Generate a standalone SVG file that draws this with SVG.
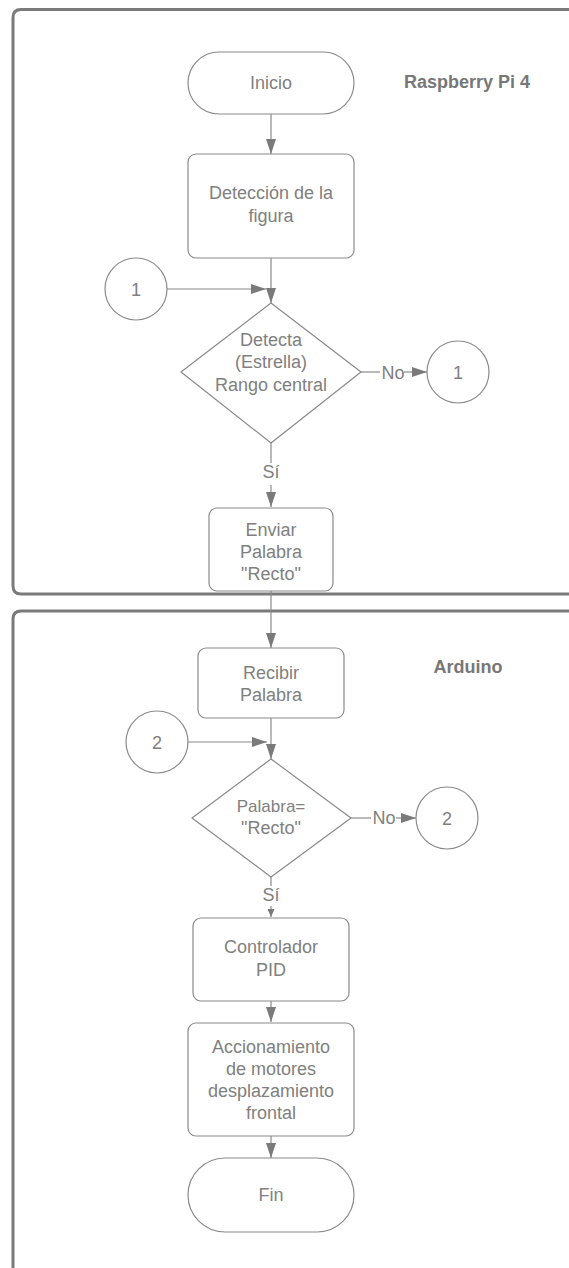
<svg xmlns="http://www.w3.org/2000/svg" width="569" height="1268" viewBox="0 0 569 1268">
  <style>
    .lane { fill: none; stroke: #7a7a7a; stroke-width: 3; }
    .shape { fill: #ffffff; stroke: #8a8a8a; stroke-width: 1.2; stroke-linejoin: round; }
    .edge { fill: none; stroke: #8a8a8a; stroke-width: 1.2; }
    .txt { font-family: "Liberation Sans", Arial, sans-serif; font-size: 18px; fill: #808080; text-anchor: middle; }
    .title { font-family: "Liberation Sans", Arial, sans-serif; font-size: 18px; font-weight: bold; fill: #777777; text-anchor: middle; }
  </style>
  <defs>
    <marker id="arrow" viewBox="0 0 15 10" refX="15" refY="5" markerWidth="15" markerHeight="10" markerUnits="userSpaceOnUse" orient="auto">
      <path d="M0,0 L15,5 L0,10 z" fill="#7a7a7a"/>
    </marker>
    <marker id="arrow-small" viewBox="0 0 8 7" refX="8" refY="3.5" markerWidth="8" markerHeight="7" markerUnits="userSpaceOnUse" orient="auto">
      <path d="M0,0 L8,3.5 L0,7 z" fill="#7a7a7a"/>
    </marker>
  </defs>
  <rect width="569" height="1268" fill="#ffffff"/>

  <!-- swimlanes -->
  <g id="lane-raspberry">
    <path class="lane" d="M580,9.5 H21 Q13,9.5 13,17.5 V586 Q13,594 21,594 H580"/>
    <text class="title" x="467" y="88">Raspberry Pi 4</text>
  </g>
  <g id="lane-arduino">
    <path class="lane" d="M580,611 H21 Q13,611 13,619 V1275"/>
    <text class="title" x="468" y="673">Arduino</text>
  </g>

  <!-- connectors -->
  <g id="connectors">
    <line class="edge" x1="271" y1="114" x2="271" y2="154" marker-end="url(#arrow)"/>
    <line class="edge" x1="271" y1="258" x2="271" y2="303" marker-end="url(#arrow)"/>
    <line class="edge" x1="167" y1="289" x2="266" y2="289" marker-end="url(#arrow)"/>
    <line class="edge" x1="361" y1="372" x2="380" y2="372"/>
    <line class="edge" x1="404" y1="372" x2="427" y2="372" marker-end="url(#arrow)"/>
    <text class="txt" x="393" y="379">No</text>
    <line class="edge" x1="271" y1="443" x2="271" y2="463"/>
    <text class="txt" x="271" y="478">Sí</text>
    <line class="edge" x1="271" y1="485" x2="271" y2="507" marker-end="url(#arrow)"/>
    <line class="edge" x1="271" y1="591" x2="271" y2="648" marker-end="url(#arrow)"/>
    <line class="edge" x1="271" y1="718" x2="271" y2="759" marker-end="url(#arrow)"/>
    <line class="edge" x1="188" y1="742" x2="267" y2="742" marker-end="url(#arrow)"/>
    <line class="edge" x1="351" y1="818" x2="371" y2="818"/>
    <line class="edge" x1="396" y1="818" x2="416" y2="818" marker-end="url(#arrow)"/>
    <text class="txt" x="384" y="824">No</text>
    <line class="edge" x1="271" y1="877" x2="271" y2="886"/>
    <text class="txt" x="271" y="901">Sí</text>
    <line class="edge" x1="271" y1="906" x2="271" y2="917" marker-end="url(#arrow-small)"/>
    <line class="edge" x1="271" y1="1001" x2="271" y2="1022" marker-end="url(#arrow)"/>
    <line class="edge" x1="271" y1="1136" x2="271" y2="1158" marker-end="url(#arrow)"/>
  </g>

  <!-- nodes -->
  <g id="inicio">
    <rect class="shape" x="188" y="52" width="166" height="62" rx="31"/>
    <text class="txt" x="271" y="89">Inicio</text>
  </g>
  <g id="deteccion">
    <rect class="shape" x="188" y="154" width="166" height="104" rx="8"/>
    <text class="txt" x="271" y="199">Detección de la</text>
    <text class="txt" x="271" y="222">figura</text>
  </g>
  <g id="conector-1-entrada">
    <circle class="shape" cx="136" cy="289" r="31"/>
    <text class="txt" x="136" y="296">1</text>
  </g>
  <g id="decision-estrella">
    <polygon class="shape" points="271,303 361,372 271,443 181,372"/>
    <text class="txt" x="271" y="346">Detecta</text>
    <text class="txt" x="271" y="368">(Estrella)</text>
    <text class="txt" x="271" y="391">Rango central</text>
  </g>
  <g id="conector-1-salida">
    <circle class="shape" cx="458" cy="372" r="31"/>
    <text class="txt" x="458" y="379">1</text>
  </g>
  <g id="enviar">
    <rect class="shape" x="209" y="508" width="124" height="83" rx="8"/>
    <text class="txt" x="271" y="536">Enviar</text>
    <text class="txt" x="271" y="558">Palabra</text>
    <text class="txt" x="271" y="580">"Recto"</text>
  </g>
  <g id="recibir">
    <rect class="shape" x="198" y="648" width="146" height="70" rx="8"/>
    <text class="txt" x="271" y="679">Recibir</text>
    <text class="txt" x="271" y="701">Palabra</text>
  </g>
  <g id="conector-2-entrada">
    <circle class="shape" cx="157" cy="742" r="31"/>
    <text class="txt" x="157" y="749">2</text>
  </g>
  <g id="decision-palabra">
    <polygon class="shape" points="271,759 351,818 271,877 192,818"/>
    <text class="txt" x="271" y="812" style="font-size:17px">Palabra=</text>
    <text class="txt" x="271" y="834">"Recto"</text>
  </g>
  <g id="conector-2-salida">
    <circle class="shape" cx="447" cy="818" r="31"/>
    <text class="txt" x="447" y="825">2</text>
  </g>
  <g id="controlador">
    <rect class="shape" x="193" y="918" width="156" height="83" rx="8"/>
    <text class="txt" x="271" y="953">Controlador</text>
    <text class="txt" x="271" y="976">PID</text>
  </g>
  <g id="accionamiento">
    <rect class="shape" x="188" y="1023" width="166" height="113" rx="8"/>
    <text class="txt" x="271" y="1053">Accionamiento</text>
    <text class="txt" x="271" y="1075">de motores</text>
    <text class="txt" x="271" y="1097">desplazamiento</text>
    <text class="txt" x="271" y="1119">frontal</text>
  </g>
  <g id="fin">
    <rect class="shape" x="188" y="1158" width="166" height="74" rx="37"/>
    <text class="txt" x="271" y="1201">Fin</text>
  </g>
</svg>
